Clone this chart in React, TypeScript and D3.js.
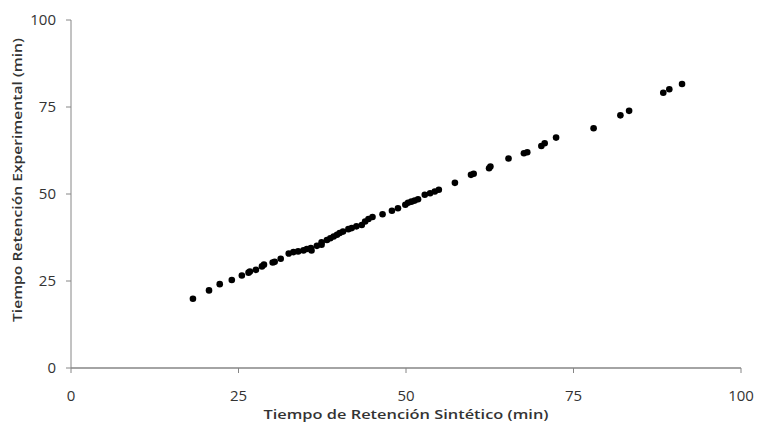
import React from "react";
import * as d3 from "d3";

const synthetic = [
  18.2, 20.6, 22.2, 24.0, 25.5, 26.5, 26.7, 27.6, 28.5, 28.8, 30.1, 30.4, 31.3,
  32.5, 33.2, 33.9, 34.7, 35.2, 35.8, 35.9, 36.7, 37.4, 37.4, 38.2, 38.7, 39.2,
  39.7, 40.1, 40.6, 41.4, 41.9, 42.6, 43.4, 43.9, 44.4, 45.0, 46.5, 47.9, 48.8,
  49.9, 50.3, 50.8, 51.3, 51.8, 52.8, 53.6, 54.3, 54.9, 57.3, 59.7, 60.1, 62.4,
  62.6, 65.3, 67.6, 68.1, 70.2, 70.7, 72.4, 78.0, 82.0, 83.3, 88.4, 89.3, 91.2,
];
const experimental = [
  19.9, 22.3, 24.1, 25.3, 26.6, 27.4, 27.7, 28.2, 29.2, 29.7, 30.3, 30.5, 31.4,
  32.9, 33.3, 33.5, 33.8, 34.2, 34.5, 33.8, 35.1, 35.4, 36.1, 36.8, 37.3, 37.8,
  38.3, 38.8, 39.2, 39.9, 40.2, 40.7, 41.1, 42.1, 42.8, 43.4, 44.2, 45.2, 45.9,
  46.9, 47.5, 47.8, 48.1, 48.5, 49.8, 50.2, 50.7, 51.2, 53.2, 55.5, 55.8, 57.4,
  57.9, 60.2, 61.7, 62.0, 63.8, 64.6, 66.2, 68.9, 72.6, 73.9, 79.1, 80.1, 81.6,
];
const xTicks = [0, 25, 50, 75, 100];
const yTicks = [0, 25, 50, 75, 100];
const xTitle = "Tiempo de Retención Sintético (min)";
const yTitle = "Tiempo Retención Experimental (min)";

export default function App() {
  const W = 757;
  const H = 423;
  const x = d3.scaleLinear().domain([0, 100]).range([71, 741]);
  const y = d3.scaleLinear().domain([0, 100]).range([368, 20]);
  const font = "'Open Sans', 'Liberation Sans', sans-serif";
  const axisColor = "#868686";
  const textColor = "#333333";
  const pts = synthetic.map((v, i) => [v, experimental[i]]);
  return (
    <svg
      width={W}
      height={H}
      style={{ position: "absolute", left: 0, top: 0, background: "#fff" }}
    >
      <line x1={x(0)} x2={x(0)} y1={y(100)} y2={y(0)} stroke={axisColor} strokeWidth={1} />
      <line x1={x(0)} x2={x(100)} y1={y(0)} y2={y(0)} stroke={axisColor} strokeWidth={1.5} />
      {yTicks.map((t) => (
        <g key={"y" + t}>
          <line x1={x(0) - 5} x2={x(0)} y1={y(t)} y2={y(t)} stroke={axisColor} />
          <text
            x={x(0) - 15}
            y={y(t)}
            dy="0.36em"
            textAnchor="end"
            fontFamily={font}
            fontSize={15}
            fill={textColor}
          >
            {t}
          </text>
        </g>
      ))}
      {xTicks.map((t) => (
        <g key={"x" + t}>
          <line x1={x(t)} x2={x(t)} y1={y(0)} y2={y(0) + 5} stroke={axisColor} />
          <text
            x={x(t)}
            y={401}
            textAnchor="middle"
            fontFamily={font}
            fontSize={15}
            fill={textColor}
          >
            {t}
          </text>
        </g>
      ))}
      <text
        x={406}
        y={419}
        textAnchor="middle"
        fontFamily={font}
        fontSize={13}
        fontWeight={600}
        fill={textColor}
        textLength={285}
        lengthAdjust="spacingAndGlyphs"
      >
        {xTitle}
      </text>
      <text
        transform={`translate(22, 180) rotate(-90)`}
        textAnchor="middle"
        fontFamily={font}
        fontSize={13}
        fontWeight={600}
        fill={textColor}
        textLength={284}
        lengthAdjust="spacingAndGlyphs"
      >
        {yTitle}
      </text>
      {pts.map((p, i) => (
        <circle key={i} cx={x(p[0])} cy={y(p[1])} r={3.3} fill="#000" />
      ))}
    </svg>
  );
}
